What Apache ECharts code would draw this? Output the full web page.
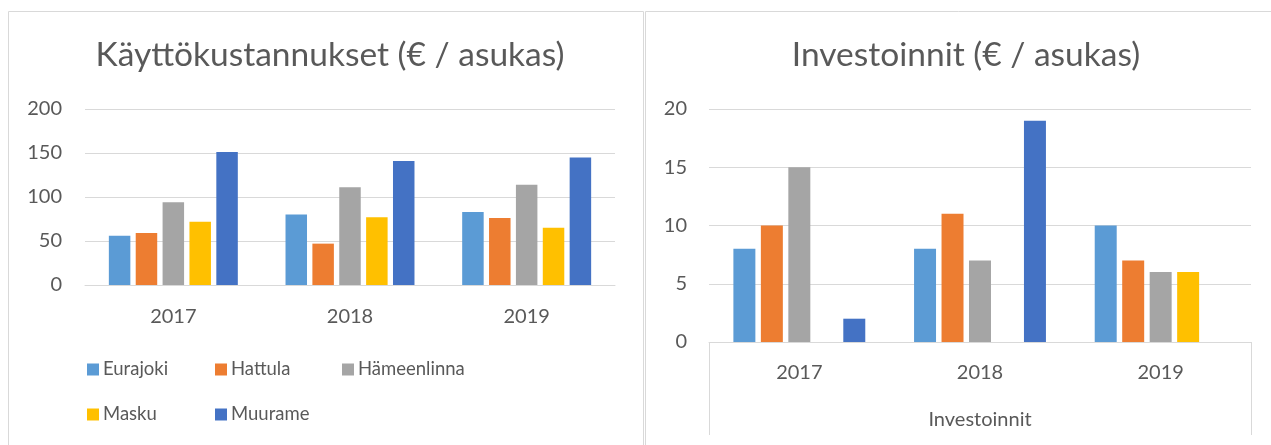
<!DOCTYPE html>
<html>
<head>
<meta charset="utf-8">
<title>Käyttökustannukset ja investoinnit</title>
<script src="https://cdn.jsdelivr.net/npm/echarts@6/dist/echarts.min.js"></script>
<style>
  html, body { margin: 0; padding: 0; background: #fff; }
  #chart { width: 1271px; height: 445px; }
</style>
</head>
<body>
<div id="chart"></div>
<script>
    // data
    const years = ['2017', '2018', '2019'];
    const kunnat = ['Eurajoki', 'Hattula', 'Hämeenlinna', 'Masku', 'Muurame'];
    const colors = ['#5B9BD5', '#ED7D31', '#A5A5A5', '#FFC000', '#4472C4'];

    // Käyttökustannukset, one array per kunta (2017, 2018, 2019)
    const kaytto = {
        Eurajoki:    [56, 80, 83],
        Hattula:     [59, 47, 76],
        Hameenlinna: [94, 111, 114],
        Masku:       [72, 77, 65],
        Muurame:     [151, 141, 145]
    };
    // Investoinnit, null = no bar
    const invest = {
        Eurajoki:    [8, 8, 10],
        Hattula:     [10, 11, 7],
        Hameenlinna: [15, 7, 6],
        Masku:       [null, null, 6],
        Muurame:     [2, 19, null]
    };
    const keys = ['Eurajoki', 'Hattula', 'Hameenlinna', 'Masku', 'Muurame'];

    const leftTicks = { min: 0, max: 200, interval: 50 };
    const rightTicks = { min: 0, max: 20, interval: 5 };

    const txt = '#595959';
    const line = '#d9d9d9';
    const font = 'Lato, "Open Sans", sans-serif';

    const chart = echarts.init(document.getElementById('chart'));

    const series = [];
    keys.forEach((k, i) => {
        series.push({
            name: kunnat[i], type: 'bar', xAxisIndex: 0, yAxisIndex: 0,
            data: kaytto[k], itemStyle: { color: colors[i] },
            barGap: '25%', barCategoryGap: '27%'
        });
    });
    keys.forEach((k, i) => {
        series.push({
            name: kunnat[i], type: 'bar', xAxisIndex: 1, yAxisIndex: 1,
            data: invest[k], itemStyle: { color: colors[i] },
            barGap: '25%', barCategoryGap: '27%'
        });
    });

    const legendBase = {
        orient: 'vertical', icon: 'rect', itemWidth: 12, itemHeight: 12,
        itemGap: 26, top: 355,
        textStyle: { color: txt, fontSize: 18.5, fontFamily: font, padding: [0, 0, 0, -1] }
    };

    const option = {
        textStyle: { fontFamily: font },
        graphic: [
            { type: 'rect', shape: { x: 8.5, y: 11.5, width: 635, height: 500 },
              style: { fill: 'none', stroke: line, lineWidth: 1 }, silent: true },
            { type: 'rect', shape: { x: 645.5, y: 11.5, width: 700, height: 500 },
              style: { fill: 'none', stroke: line, lineWidth: 1 }, silent: true }
        ],
        title: [
            { text: 'Käyttökustannukset (€ / asukas)', left: 325, top: 33, textAlign: 'center',
              textStyle: { color: txt, fontSize: 33.5, fontWeight: 'normal', fontFamily: font } },
            { text: 'Investoinnit (€ / asukas)', left: 961, top: 33, textAlign: 'center',
              textStyle: { color: txt, fontSize: 33.5, fontWeight: 'normal', fontFamily: font } }
        ],
        tooltip: { trigger: 'axis', axisPointer: { type: 'shadow' } },
        legend: [
            Object.assign({ left: 82, data: ['Eurajoki', 'Masku'] }, legendBase),
            Object.assign({ left: 210, data: ['Hattula', 'Muurame'] }, legendBase),
            Object.assign({ left: 337, data: ['Hämeenlinna'] }, legendBase)
        ],
        grid: [
            { left: 85, top: 109, width: 530, height: 176 },
            { left: 709, top: 109, width: 542, height: 233 }
        ],
        xAxis: [
            { type: 'category', gridIndex: 0, data: years,
              axisLine: { lineStyle: { color: line } }, axisTick: { show: false },
              axisLabel: { color: txt, fontSize: 20, margin: 22, fontFamily: font } },
            { type: 'category', gridIndex: 1, data: years,
              axisLine: { lineStyle: { color: line } }, axisTick: { show: false },
              axisLabel: { color: txt, fontSize: 20, margin: 21, fontFamily: font } },
            // second level of the category axis
            { type: 'category', gridIndex: 1, position: 'bottom', data: ['Investoinnit'],
              axisLine: { show: false },
              axisTick: { show: true, length: 93, alignWithLabel: false, lineStyle: { color: line } },
              axisLabel: { color: txt, fontSize: 20, margin: 68, fontFamily: font },
              splitLine: { show: false } }
        ],
        yAxis: [
            { type: 'value', gridIndex: 0, min: leftTicks.min, max: leftTicks.max, interval: leftTicks.interval,
              axisLine: { show: false }, axisTick: { show: false },
              axisLabel: { color: txt, fontSize: 20, margin: 23, fontFamily: font },
              splitLine: { lineStyle: { color: line, width: 1 } } },
            { type: 'value', gridIndex: 1, min: rightTicks.min, max: rightTicks.max, interval: rightTicks.interval,
              axisLine: { show: false }, axisTick: { show: false },
              axisLabel: { color: txt, fontSize: 20, margin: 22, fontFamily: font },
              splitLine: { lineStyle: { color: line, width: 1 } } }
        ],
        series: series
    };

    chart.setOption(option);

    window.addEventListener('resize', () => {
        chart.resize();
    });
</script>
</body>
</html>
